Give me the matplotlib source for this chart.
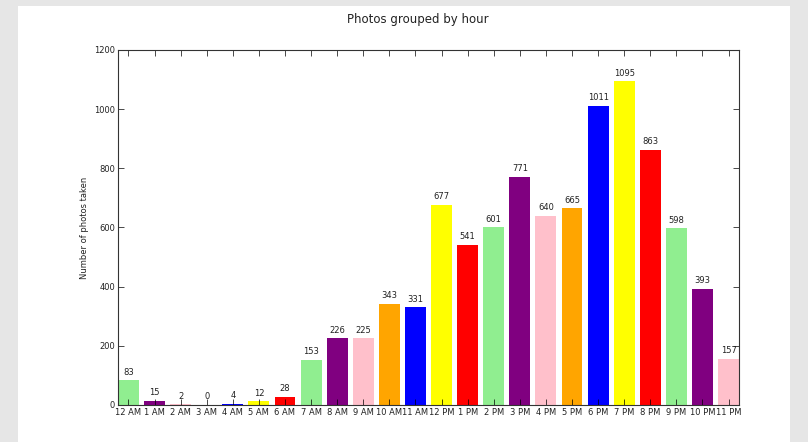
import matplotlib.pyplot as plt
from matplotlib.patches import Rectangle
import numpy as np

hours = ['12 AM', '1 AM', '2 AM', '3 AM', '4 AM', '5 AM', '6 AM', '7 AM', '8 AM', '9 AM',
         '10 AM', '11 AM', '12 PM', '1 PM', '2 PM', '3 PM', '4 PM', '5 PM', '6 PM', '7 PM',
         '8 PM', '9 PM', '10 PM', '11 PM']
counts = [83, 15, 2, 0, 4, 12, 28, 153, 226, 225, 343, 331, 677, 541, 601, 771, 640, 665,
          1011, 1095, 863, 598, 393, 157]
palette = ['lightgreen', 'purple', 'pink', 'orange', 'blue', 'yellow', 'red']

fig = plt.figure(figsize=(8.08, 4.42), dpi=100, facecolor='#e6e6e6')
fig.patches.append(Rectangle((18 / 808, 0), 772 / 808, 1 - 6 / 442,
                             transform=fig.transFigure, facecolor='white',
                             edgecolor='none', zorder=-1))

ax = fig.add_axes([118 / 808, 1 - 405 / 442, 621 / 808, 355 / 442])
x = np.arange(len(hours))
colors = [palette[i % len(palette)] for i in x]
bars = ax.bar(x, counts, width=0.8, align='edge', color=colors, edgecolor='none')

for b, c in zip(bars, counts):
    ax.text(b.get_x() + b.get_width() / 2, c + 12, str(c), ha='center', va='bottom',
            fontsize=6, color='#222222')

ax.set_xlim(0, 23.8)
ax.set_ylim(0, 1200)
ax.set_yticks(range(0, 1201, 200))
ax.set_xticks(x + 0.4)
ax.set_xticklabels(hours, fontsize=6)
ax.tick_params(axis='y', labelsize=6)
ax.tick_params(direction='in', top=True, right=True, length=4, width=0.5, pad=2,
               labelcolor='#222222')
for s in ax.spines.values():
    s.set_linewidth(0.8)
    s.set_color('#333333')
ax.set_ylabel('Number of photos taken', fontsize=6, color='#222222')
fig.text(418 / 808, 1 - 19 / 442, 'Photos grouped by hour', ha='center', va='center',
         fontsize=8.5, color='#222222')

fig.savefig('out.png', dpi=100, facecolor=fig.get_facecolor())
